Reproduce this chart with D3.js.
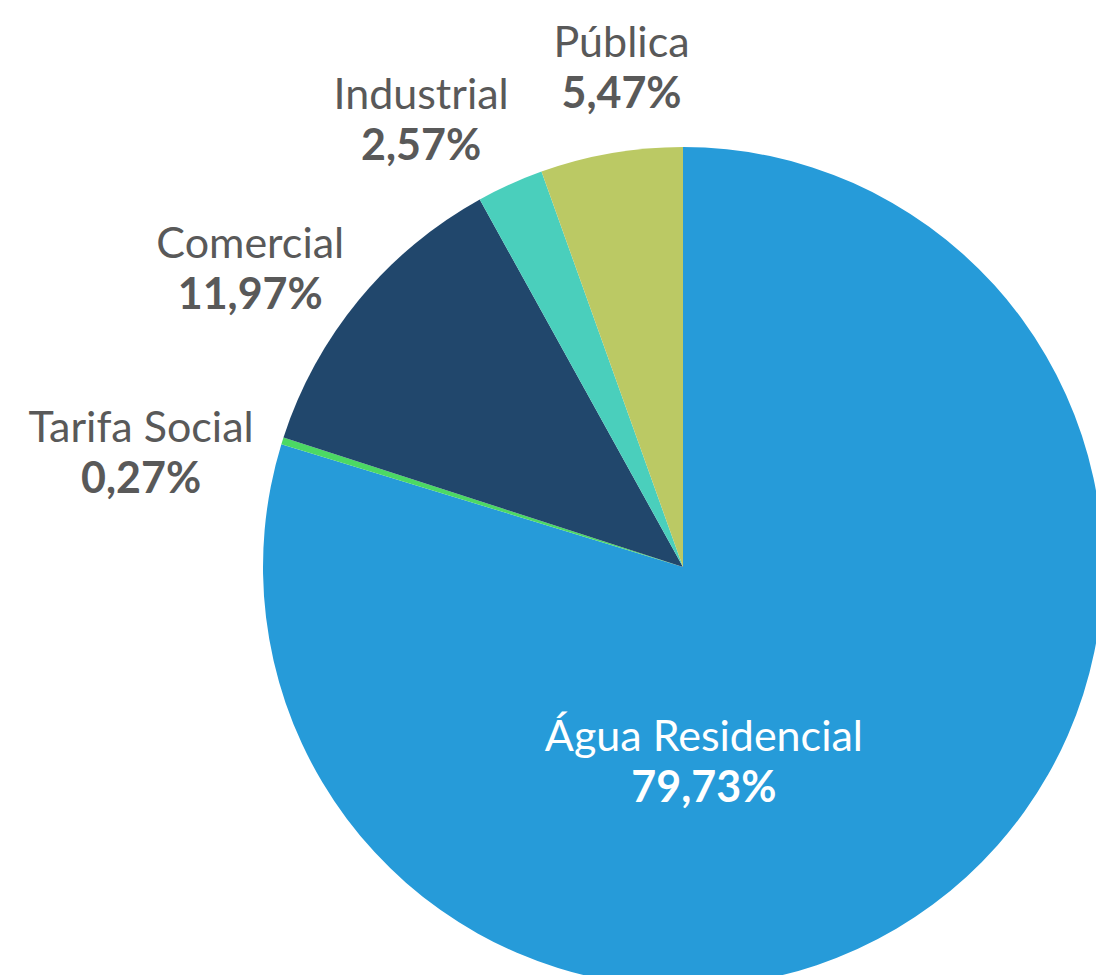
<!DOCTYPE html>
<html>
<head>
<meta charset="utf-8">
<script src="https://cdn.jsdelivr.net/npm/d3@7"></script>
<style>
  html, body { margin: 0; padding: 0; background: #fff; overflow: hidden; }
  text { font-family: Lato, "Open Sans", sans-serif; }
</style>
</head>
<body>
<div id="chart"></div>
<script>
// data, clockwise from 12 o'clock
var categories = ["Água Residencial", "Tarifa Social", "Comercial", "Industrial", "Pública"];
var values = [79.73, 0.27, 11.97, 2.57, 5.47];
var colors = ["#269bd9", "#4cd964", "#21476c", "#4acfbc", "#bbc964"];

var width = 1096, height = 975;
var cx = 683, cy = 567, radius = 420;

// label placement: point on a ring of labelR along the slice mid-angle, plus a nudge
var labelR = 500;
var nudge = [[-107, 23], [-65, 37], [-47, 21], [-56, 10], [24, -5]];
var insideR = 215;

var svg = d3.select('#chart')
  .append('svg')
  .attr('width', width)
  .attr('height', height);

var g = svg.append('g')
  .attr('transform', 'translate(' + cx + ',' + cy + ')');

var pie = d3.pie().sort(null).value(function(d) { return d; });
var arcs = pie(values);

var arc = d3.arc().innerRadius(0).outerRadius(radius);
var labelArc = d3.arc().innerRadius(labelR).outerRadius(labelR);
var innerArc = d3.arc().innerRadius(insideR).outerRadius(insideR);

g.selectAll('path')
  .data(arcs)
  .enter().append('path')
  .attr('d', arc)
  .attr('fill', function(d, i) { return colors[i]; });

var labels = g.selectAll('g.label')
  .data(arcs)
  .enter().append('g')
  .attr('class', 'label')
  .attr('transform', function(d, i) {
    var p = i === 0 ? innerArc.centroid(d) : labelArc.centroid(d);
    return 'translate(' + (p[0] + nudge[i][0]) + ',' + (p[1] + nudge[i][1]) + ')';
  });

labels.append('text')
  .attr('text-anchor', 'middle')
  .attr('y', -12)
  .attr('fill', function(d, i) { return i === 0 ? '#fff' : '#595959'; })
  .style('font-size', '43px')
  .text(function(d, i) { return categories[i]; });

labels.append('text')
  .attr('text-anchor', 'middle')
  .attr('y', 39)
  .attr('fill', function(d, i) { return i === 0 ? '#fff' : '#595959'; })
  .style('font-size', '43px')
  .style('font-weight', 'bold')
  .text(function(d) { return d3.format('.2f')(d.data).replace('.', ',') + '%'; });
</script>
</body>
</html>
